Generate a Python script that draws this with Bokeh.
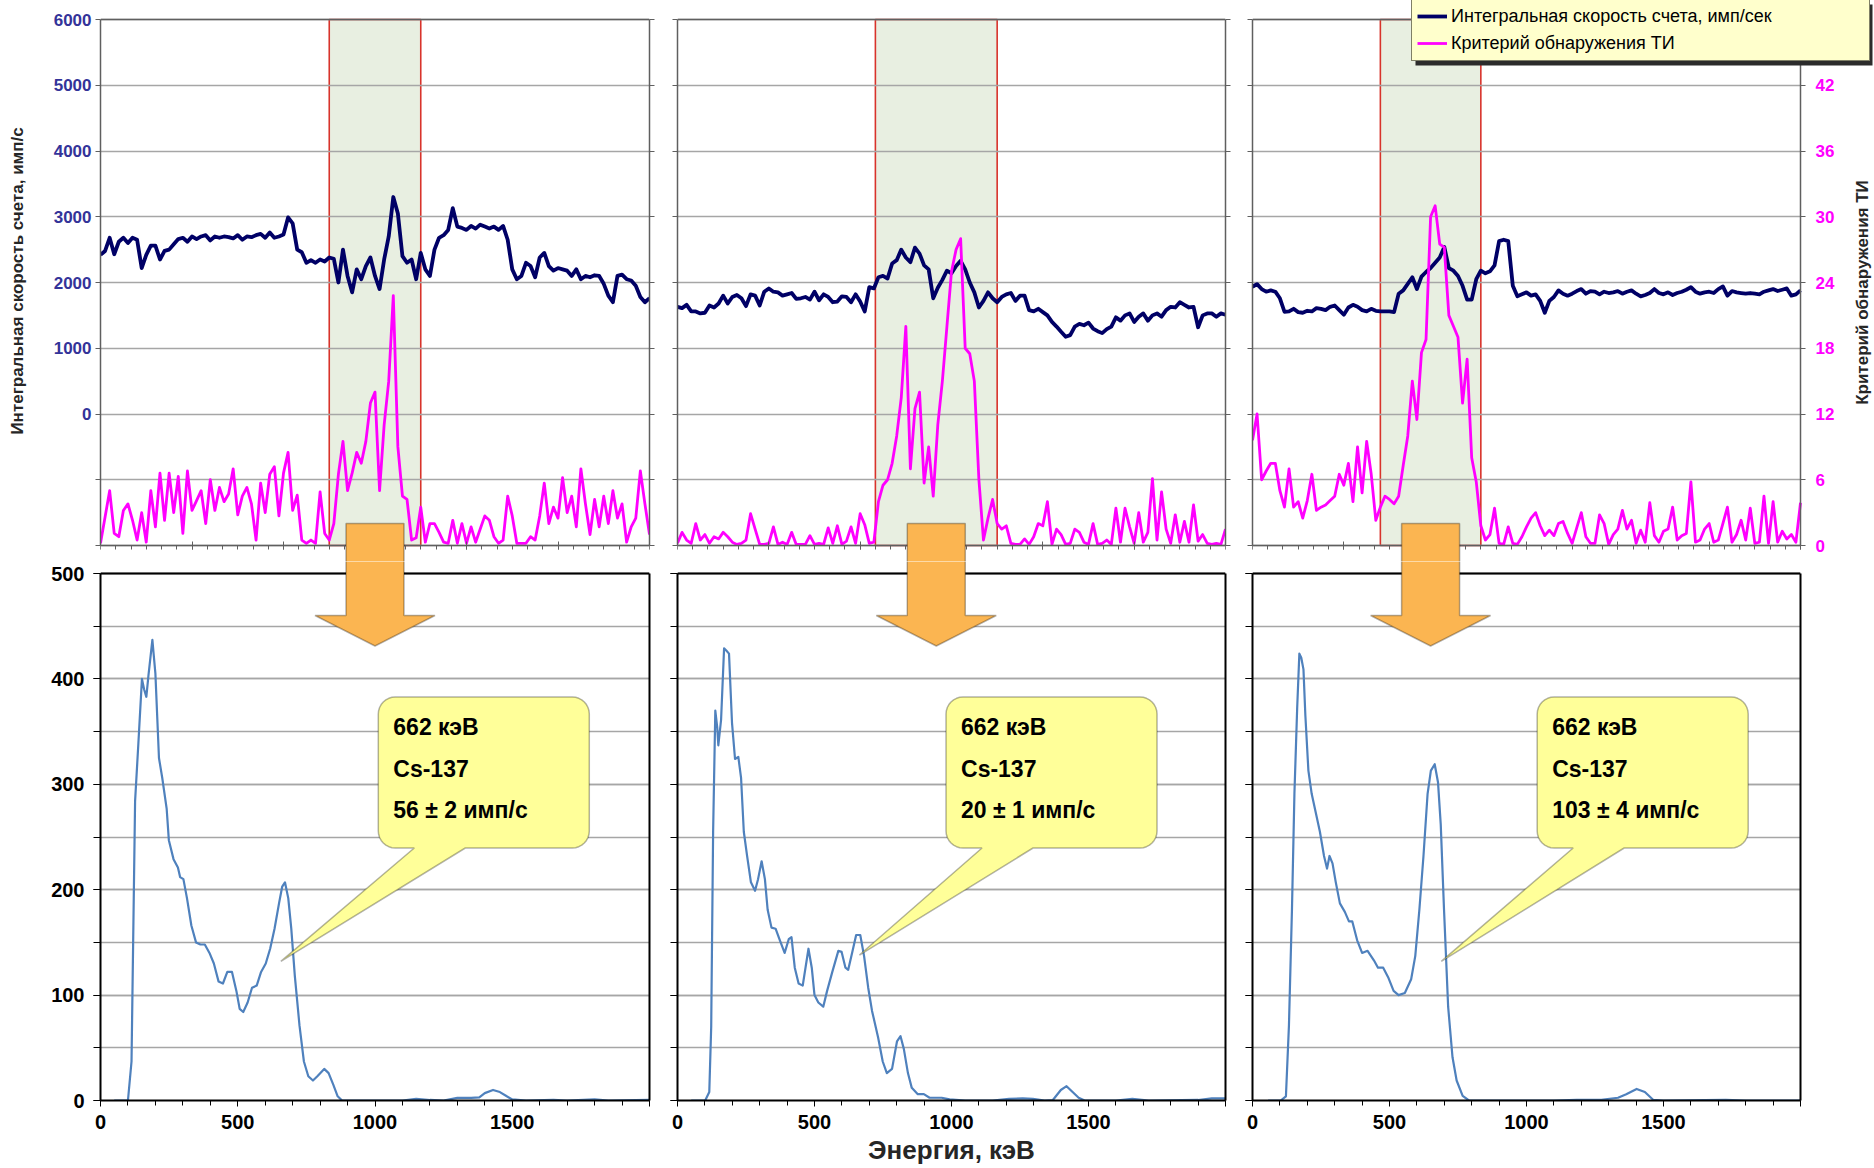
import math
import numpy as np
from bokeh.plotting import figure
from bokeh.layouts import row, column
from bokeh.models import (Range1d, LinearAxis, FixedTicker, BoxAnnotation,
                          PolyAnnotation, Label, Legend, LegendItem)
from bokeh.embed import file_html
from bokeh.resources import INLINE

FONT = "Liberation Sans"
NAVY = "#000066"
MAGENTA = "#FF00FF"
SPEC_BLUE = "#4F81BD"
GRID_GRAY = "#A6A6A6"
TOP_AXIS = "#5F5F5F"
SHADE = "#E8EFE1"
WIN_RED = "#D8332B"
ARROW_FILL = "#FBB551"
CALLOUT_FILL = "#FFFF99"
LEGEND_FILL = "#FFFFCC"

# ---------------------------------------------------------------- data
# monitoring records, one sample every 3 time units over 0..360
STEP = 3
T_MAX = 360

rate_1 = [2420, 2480, 2680, 2430, 2620, 2680, 2600, 2680, 2650, 2220, 2420, 2560, 2560, 2350, 2480, 2500, 2580, 2660, 2680, 2620,
          2700, 2660, 2700, 2720, 2640, 2700, 2680, 2700, 2690, 2670, 2720, 2650, 2700, 2690, 2720, 2740, 2680, 2760, 2680, 2700,
          2730, 2990, 2900, 2500, 2460, 2300, 2340, 2300, 2350, 2320, 2380, 2360, 2000, 2500, 2100, 1850, 2200, 2050, 2250, 2380,
          2100, 1900, 2350, 2700, 3300, 3050, 2400, 2300, 2350, 2050, 2450, 2200, 2100, 2500, 2680, 2720, 2800, 3130, 2850, 2830,
          2800, 2860, 2820, 2880, 2850, 2820, 2850, 2800, 2860, 2650, 2200, 2050, 2100, 2300, 2250, 2080, 2380, 2450, 2250, 2180,
          2220, 2200, 2180, 2100, 2200, 2050, 2100, 2080, 2110, 2100, 1980, 1800, 1700, 2100, 2120, 2050, 2030, 1950, 1780, 1700,
          1760]
crit_1 = [0.2, 2.6, 5.0, 1.1, 0.8, 3.2, 3.8, 2.3, 0.5, 3.0, 0.3, 5.0, 1.7, 6.6, 2.3, 6.6, 3.0, 6.3, 1.1, 6.8,
          3.2, 4.1, 5.0, 2.0, 6.0, 3.2, 5.3, 4.0, 4.7, 7.0, 2.8, 4.5, 5.3, 3.8, 0.5, 5.7, 3.0, 6.5, 7.2, 2.7,
          6.6, 8.5, 3.2, 4.6, 0.5, 0.2, 0.5, 0.2, 4.9, 1.1, 0.5, 2.0, 6.5, 9.5, 5.0, 6.6, 8.5, 7.5, 9.5, 13.0,
          14.0, 5.0, 11.0, 15.0, 22.8, 9.0, 4.5, 4.2, 0.5, 0.7, 3.5, 0.3, 2.0, 2.0, 1.2, 0.3, 0.2, 2.3, 0.2, 2.0,
          0.2, 1.7, 0.3, 1.5, 2.7, 2.3, 0.8, 0.2, 0.5, 4.5, 2.7, 0.2, 0.2, 0.2, 0.8, 0.5, 2.7, 5.7, 2.0, 3.5,
          2.5, 6.2, 3.0, 4.5, 1.7, 7.0, 3.8, 1.0, 4.2, 1.7, 4.5, 2.0, 5.0, 2.5, 3.8, 0.3, 1.7, 2.5, 6.8, 3.8,
          1.0]

rate_2 = [1630, 1610, 1660, 1560, 1560, 1530, 1540, 1650, 1620, 1680, 1800, 1680, 1780, 1810, 1760, 1640, 1820, 1800, 1650, 1860,
          1910, 1860, 1850, 1800, 1820, 1840, 1750, 1760, 1780, 1740, 1860, 1730, 1820, 1780, 1700, 1710, 1790, 1780, 1700, 1820,
          1710, 1560, 1930, 1910, 2080, 2100, 2060, 2290, 2340, 2500, 2380, 2310, 2530, 2440, 2260, 2200, 1760, 1920, 2040, 2180,
          2140, 2250, 2330, 2200, 2000, 1850, 1620, 1720, 1850, 1760, 1700, 1780, 1820, 1840, 1720, 1800, 1800, 1580, 1560, 1600,
          1550, 1500, 1400, 1330, 1250, 1175, 1200, 1330, 1370, 1350, 1390, 1300, 1260, 1230, 1290, 1330, 1470, 1420, 1500, 1530,
          1400, 1480, 1530, 1420, 1500, 1530, 1480, 1580, 1630, 1620, 1700, 1660, 1620, 1630, 1320, 1500, 1530, 1530, 1480, 1530,
          1510]
crit_2 = [0.2, 1.2, 0.5, 0.2, 2.0, 0.5, 1.0, 0.2, 0.8, 0.6, 1.2, 0.8, 0.3, 0.1, 0.2, 0.5, 2.9, 1.5, 0.1, 0.1,
          0.2, 1.7, 0.1, 0.3, 0.1, 1.2, 0.1, 0.1, 0.1, 0.9, 0.1, 0.2, 0.1, 1.6, 0.2, 1.8, 0.1, 0.4, 1.7, 0.2,
          2.9, 1.9, 0.2, 0.3, 4.0, 5.5, 6.0, 7.5, 10.0, 13.5, 20.0, 7.0, 12.5, 14.0, 5.7, 9.0, 4.5, 11.0, 15.0, 20.0,
          25.0, 27.0, 28.0, 18.0, 17.5, 15.0, 6.0, 0.5, 2.5, 4.2, 2.0, 1.5, 1.8, 0.2, 0.1, 0.1, 0.6, 0.1, 0.8, 2.0,
          1.8, 4.0, 0.1, 1.5, 1.0, 0.1, 0.2, 1.5, 1.2, 0.3, 0.1, 2.0, 0.1, 0.2, 0.5, 0.1, 3.4, 0.3, 3.4, 1.7,
          0.2, 3.0, 0.3, 1.2, 6.1, 0.5, 4.9, 1.5, 0.2, 2.8, 0.3, 2.2, 0.3, 3.7, 0.4, 1.0, 0.2, 0.1, 0.2, 0.1,
          1.5]

rate_3 = [1935, 1975, 1900, 1860, 1880, 1860, 1760, 1555, 1560, 1600, 1550, 1540, 1570, 1560, 1610, 1600, 1580, 1630, 1650, 1580,
          1510, 1620, 1660, 1630, 1580, 1560, 1600, 1570, 1560, 1560, 1560, 1550, 1830, 1880, 1980, 2080, 1900, 2090, 2160, 2220,
          2300, 2380, 2540, 2220, 2180, 2100, 1950, 1740, 1740, 2050, 2180, 2140, 2170, 2260, 2630, 2650, 2630, 1950, 1790, 1820,
          1850, 1800, 1820, 1720, 1540, 1720, 1780, 1880, 1830, 1800, 1830, 1870, 1900, 1830, 1870, 1860, 1820, 1860, 1840, 1850,
          1870, 1830, 1860, 1880, 1830, 1790, 1810, 1840, 1900, 1840, 1820, 1850, 1810, 1840, 1860, 1890, 1930, 1860, 1830, 1850,
          1860, 1840, 1900, 1940, 1800, 1870, 1850, 1840, 1830, 1840, 1830, 1820, 1860, 1880, 1900, 1870, 1890, 1910, 1800, 1820,
          1880]
crit_3 = [9.6, 12.0, 6.0, 6.8, 7.5, 7.5, 5.0, 3.5, 7.0, 3.5, 4.0, 2.5, 4.1, 6.5, 3.2, 3.5, 3.7, 4.1, 4.5, 6.5,
          5.5, 7.5, 4.0, 9.0, 4.8, 9.5, 6.5, 2.3, 3.5, 4.5, 4.2, 3.8, 4.5, 7.3, 10.0, 15.0, 11.5, 17.6, 18.8, 30.0,
          31.0, 27.5, 27.2, 21.0, 20.0, 19.0, 13.0, 17.0, 8.0, 5.8, 1.8, 0.5, 1.0, 3.4, 0.2, 0.1, 1.7, 0.2, 0.1, 0.8,
          1.7, 2.5, 3.0, 1.8, 0.9, 1.4, 0.9, 2.0, 2.2, 1.1, 0.2, 1.6, 3.0, 0.8, 0.2, 0.2, 2.8, 2.0, 0.1, 1.0,
          1.5, 3.2, 1.5, 2.3, 0.2, 1.4, 0.3, 3.9, 0.9, 0.3, 1.3, 1.5, 3.5, 0.5, 0.9, 1.1, 5.8, 0.3, 0.5, 1.5,
          2.0, 0.3, 0.5, 2.0, 3.5, 0.3, 1.0, 2.3, 0.5, 3.4, 0.2, 0.3, 4.5, 0.2, 4.0, 0.3, 1.3, 0.6, 1.0, 0.3,
          3.9]

# time windows used for spectrum accumulation
windows = [(150, 210), (130, 210), (84, 150)]

# gamma spectra accumulated in those windows
energy_1 = [50, 100, 113, 126, 138, 151, 159, 167, 175, 189, 200, 213, 225, 241, 249, 266, 282, 290, 302, 315,
            331, 348, 364, 380, 397, 413, 430, 446, 462, 479, 495, 507, 520, 536, 552, 569, 585, 602, 618, 634,
            651, 662, 672, 684, 695, 708, 725, 741, 757, 774, 790, 815, 831, 848, 864, 880, 1000, 1100, 1150, 1200,
            1250, 1300, 1350, 1380, 1400, 1430, 1455, 1480, 1500, 1550, 1650, 1700, 1800, 1850, 2000]
counts_1 = [0, 0, 37, 284, 339, 400, 390, 383, 404, 437, 405, 325, 306, 277, 247, 229, 221, 212, 210, 192,
            166, 150, 148, 148, 140, 130, 113, 111, 122, 122, 104, 87, 84, 93, 107, 109, 122, 130, 144, 163,
            188, 203, 207, 192, 163, 118, 71, 37, 23, 19, 23, 30, 26, 15, 4, 0, 0, 0, 1.5, 0.5,
            0, 2.5, 2.5, 3, 7, 10, 8, 4, 1, 0, 0.5, 0, 1, 0, 0.5]

energy_2 = [50, 101, 116, 123, 130, 138, 145, 149, 159, 170, 178, 188, 199, 210, 222, 232, 242, 254, 268, 283,
            294, 307, 319, 329, 343, 358, 372, 391, 406, 416, 428, 442, 457, 478, 490, 500, 514, 532, 546, 565,
            587, 599, 613, 623, 638, 652, 667, 681, 696, 710, 732, 749, 764, 783, 801, 814, 826, 841, 855, 877,
            899, 920, 964, 993, 1050, 1150, 1210, 1260, 1297, 1340, 1370, 1399, 1420, 1442, 1464, 1486, 1600, 1660,
            1720, 1900, 1950, 2000]
counts_2 = [0, 0, 8, 70, 255, 370, 354, 337, 361, 429, 427, 424, 358, 324, 326, 306, 255, 232, 207, 199,
            210, 227, 210, 181, 164, 163, 153, 140, 153, 155, 126, 111, 109, 144, 126, 100, 93, 89, 104, 122,
            142, 141, 126, 124, 141, 157, 157, 137, 107, 85, 60, 37, 26, 30, 56, 61, 49, 26, 12, 6,
            6, 2.6, 2.6, 1, 0, 0, 1.5, 2, 1.5, 0, 0.5, 10, 13.6, 8, 2.6, 0, 0, 1.5,
            0, 0.5, 2, 2]

energy_3 = [57, 103, 122, 133, 144, 153, 163, 171, 178, 186, 193, 204, 216, 231, 246, 261, 272, 281, 292, 304,
            319, 337, 352, 364, 382, 400, 420, 443, 458, 477, 495, 515, 533, 556, 579, 594, 609, 624, 639, 651,
            665, 677, 687, 699, 714, 730, 745, 767, 790, 1100, 1183, 1273, 1334, 1364, 1402, 1432, 1462, 1500, 1727,
            1800, 2000]
counts_3 = [0, 0, 4, 71, 181, 291, 372, 424, 420, 409, 365, 313, 291, 273, 255, 232, 220, 232, 225, 207,
            187, 179, 170, 170, 152, 140, 142, 133, 126, 126, 117, 104, 100, 102, 115, 137, 181, 232, 291, 313,
            319, 302, 262, 181, 89, 41, 19, 4.4, 0, 0, 0.7, 0.7, 2.6, 6, 11, 8, 0.7, 0, 0.7,
            0, 0]

peak_energy_text = "662 кэВ"
nuclide_text = "Cs-137"
activity_texts = ["56 ± 2 имп/с", "20 ± 1 имп/с", "103 ± 4 имп/с"]
callout_left_kev = [1012, 980, 1039]
callout_tips = [(657, 132), (664, 138), (689, 132)]

RATE_MIN, RATE_MAX = -2000, 6000
CRIT_MAX = 48
E_MAX, C_MAX = 2000, 500
rate_ticks = list(range(RATE_MIN, RATE_MAX + 1, 1000))
crit_ticks = list(range(0, CRIT_MAX + 1, 6))
time_major = list(range(0, T_MAX + 1, 60))
time_minor = list(range(0, T_MAX + 1, 10))
energy_ticks = [0, 500, 1000, 1500, 2000]
energy_minor = list(range(0, E_MAX + 1, 100))
count_ticks = [0, 100, 200, 300, 400, 500]
count_minor = list(range(0, C_MAX + 1, 50))

legend_labels = ["Интегральная скорость счета, имп/сек", "Критерий обнаружения ТИ"]
rate_title = "Интегральная скорость счета, имп/с"
crit_title = "Критерий обнаружения ТИ"
energy_title = "Энергия, кэВ"

# ---------------------------------------------------------------- geometry (px)
FRAME_W = [549, 548, 548]
BORDER_L = [100, 14, 14]
BORDER_R_TOP = [14, 13, 0]
BORDER_R_BOT = [14, 13, 74]
EXTRA_R = [0, 0, 74]        # the right-hand record keeps legend and axis title inside its drawing area
TOP_H = 526                 # height of the boxed record area
TOP_PAD = 19                # free strip above the record box
GAP_TOP = 16                # strip below the record box (belongs to the upper plots)
BOT_PAD = 12                # strip above the spectrum box (belongs to the lower plots)
BOT_H = 527
SHAFT_HALF = 29
HEAD_HALF = 60

K_RATE = TOP_H / (RATE_MAX - RATE_MIN)     # px per count-rate unit
K_CRIT = TOP_H / CRIT_MAX                  # px per criterion unit
K_COUNT = BOT_H / C_MAX                    # px per spectrum count unit


def hide_labels(ax):
    ax.major_label_text_font_size = "1px"
    ax.major_label_text_color = None
    ax.major_label_standoff = 0


def edge_axis(color, width, bounds, **kw):
    ax = LinearAxis(bounds=bounds, ticker=FixedTicker(ticks=[]), **kw)
    hide_labels(ax)
    ax.major_tick_line_color = None
    ax.minor_tick_line_color = None
    ax.axis_line_color = color
    ax.axis_line_width = width
    return ax


def top_panel(i, rate, crit, window):
    fw = FRAME_W[i]
    kx = fw / T_MAX
    x_hi = T_MAX + EXTRA_R[i] / kx
    p = figure(frame_width=fw + EXTRA_R[i], frame_height=TOP_PAD + TOP_H + GAP_TOP,
               x_range=Range1d(0, x_hi),
               y_range=Range1d(RATE_MIN - GAP_TOP / K_RATE, RATE_MAX + TOP_PAD / K_RATE),
               min_border_left=BORDER_L[i], min_border_right=BORDER_R_TOP[i],
               min_border_top=0, min_border_bottom=0,
               output_backend="svg", toolbar_location=None)
    p.extra_y_ranges = {"crit": Range1d(0 - GAP_TOP / K_CRIT, CRIT_MAX + TOP_PAD / K_CRIT)}
    p.outline_line_color = None

    p.xgrid.visible = False
    grid = p.ygrid[0]
    grid.ticker = FixedTicker(ticks=rate_ticks)
    grid.grid_line_color = GRID_GRAY
    grid.grid_line_width = 1.5
    use_grid = True
    if EXTRA_R[i] > 0:
        if "cross_bounds" in grid.properties():
            grid.cross_bounds = (0, T_MAX)
        else:
            use_grid = False
            grid.visible = False

    # accumulation window: shaded band with red edges, under the grid
    band = BoxAnnotation(left=window[0], right=window[1], top=RATE_MAX, bottom=RATE_MIN,
                         fill_color=SHADE, fill_alpha=1.0, line_color=WIN_RED, line_alpha=1.0,
                         line_width=1.6, level="underlay")
    p.center = [band] + list(p.center)
    if not use_grid:
        p.segment(x0=[0] * len(rate_ticks), x1=[T_MAX] * len(rate_ticks), y0=rate_ticks, y1=rate_ticks,
                  line_color=GRID_GRAY, line_width=1.5, level="underlay")

    t = [STEP * k for k in range(len(rate))]
    tc = [STEP * k for k in range(len(crit))]
    r_rate = p.line(t, rate, line_color=NAVY, line_width=3.8, line_join="round")
    r_crit = p.line(tc, crit, line_color=MAGENTA, line_width=2.8, line_join="round",
                    y_range_name="crit")

    # left axis
    yl = p.yaxis[0]
    yl.ticker = FixedTicker(ticks=rate_ticks)
    yl.bounds = (RATE_MIN, RATE_MAX)
    yl.major_tick_in = 0
    yl.major_tick_out = 5
    yl.minor_tick_line_color = None
    yl.axis_line_color = TOP_AXIS
    yl.axis_line_width = 1.5
    yl.major_tick_line_color = TOP_AXIS
    if i == 0:
        yl.major_label_overrides = {-2000: "", -1000: ""}
        yl.major_label_text_font = FONT
        yl.major_label_text_font_size = "17px"
        yl.major_label_text_font_style = "bold"
        yl.major_label_text_color = "#333399"
        yl.major_label_standoff = 4
        yl.axis_label = rate_title
        yl.axis_label_text_font = FONT
        yl.axis_label_text_font_size = "17px"
        yl.axis_label_text_font_style = "bold"
        yl.axis_label_text_color = "#262626"
        yl.axis_label_standoff = 24
    else:
        hide_labels(yl)

    # right axis
    if i == 2:
        yr = LinearAxis(y_range_name="crit", ticker=FixedTicker(ticks=crit_ticks),
                        fixed_location=T_MAX, bounds=(0, CRIT_MAX))
        yr.major_label_overrides = {CRIT_MAX: ""}
        yr.major_label_text_font = FONT
        yr.major_label_text_font_size = "17px"
        yr.major_label_text_font_style = "bold"
        yr.major_label_text_color = MAGENTA
        yr.major_label_standoff = 10
        # title of the criterion scale, reading upwards, centred on the box
        p.add_layout(Label(x=T_MAX + 61.5 / kx, y=RATE_MAX - 273 / K_RATE, text=crit_title,
                           angle=math.pi / 2, text_align="center", text_baseline="middle",
                           text_font=FONT, text_font_size="17px", text_font_style="bold",
                           text_color="#262626"))
    else:
        yr = LinearAxis(ticker=FixedTicker(ticks=rate_ticks), bounds=(RATE_MIN, RATE_MAX))
        hide_labels(yr)
    yr.major_tick_in = 0
    yr.major_tick_out = 5
    yr.minor_tick_line_color = None
    yr.axis_line_color = TOP_AXIS
    yr.axis_line_width = 1.5
    yr.major_tick_line_color = TOP_AXIS
    p.add_layout(yr, "right")

    # time axis along the bottom edge of the box: tick marks only
    xa = p.xaxis[0]
    xa.ticker = FixedTicker(ticks=time_major, minor_ticks=time_minor)
    xa.fixed_location = RATE_MIN
    xa.bounds = (0, T_MAX)
    hide_labels(xa)
    xa.axis_line_color = TOP_AXIS
    xa.axis_line_width = 1.5
    xa.major_tick_line_color = TOP_AXIS
    xa.minor_tick_line_color = TOP_AXIS
    xa.major_tick_in = 4
    xa.major_tick_out = 4
    xa.minor_tick_in = 0
    xa.minor_tick_out = 4

    # top edge of the box
    p.add_layout(edge_axis(TOP_AXIS, 1.5, (0, T_MAX), fixed_location=RATE_MAX), "above")

    # upper part of the block arrow that leads to the spectrum below
    c = (window[0] + window[1]) / 2
    hw = SHAFT_HALF / kx
    y_top = RATE_MIN + 22 / K_RATE
    y_bot = RATE_MIN - 60 / K_RATE
    p.add_layout(PolyAnnotation(xs=[c - hw, c + hw, c + hw, c - hw], ys=[y_top, y_top, y_bot, y_bot],
                                fill_color=ARROW_FILL, fill_alpha=1.0, line_color="black", line_width=1.5))
    return p, r_rate, r_crit


def callout_shape(left, top, kx, ky, tip, w=211, h=151, r=17, b0=36, b1=87):
    pts = []

    def arc(cx, cy, a0, a1):
        for a in np.linspace(a0, a1, 9):
            pts.append((cx + r * math.cos(a), cy - r * math.sin(a)))

    tdx = (tip[0] - left) * kx
    tdy = (top - tip[1]) * ky
    pts.append((r, 0))
    pts.append((w - r, 0))
    arc(w - r, r, math.pi / 2, 0)
    pts.append((w, h - r))
    arc(w - r, h - r, 0, -math.pi / 2)
    pts.append((b1, h))
    pts.append((tdx, tdy))
    pts.append((b0, h))
    pts.append((r, h))
    arc(r, h - r, -math.pi / 2, -math.pi)
    pts.append((0, r))
    arc(r, r, math.pi, math.pi / 2)
    xs = [left + px / kx for px, _ in pts]
    ys = [top - py / ky for _, py in pts]
    return xs, ys


def bottom_panel(i, energy, counts, window):
    fw = FRAME_W[i]
    kx = fw / E_MAX
    p = figure(frame_width=fw, frame_height=BOT_PAD + BOT_H,
               x_range=Range1d(0, E_MAX), y_range=Range1d(0, C_MAX + BOT_PAD / K_COUNT),
               min_border_left=BORDER_L[i], min_border_right=BORDER_R_BOT[i],
               min_border_top=0, min_border_bottom=68,
               output_backend="svg", toolbar_location=None)
    p.outline_line_color = None

    p.xgrid.visible = False
    yt = FixedTicker(ticks=count_ticks, minor_ticks=count_minor)
    p.ygrid.ticker = yt
    p.ygrid.grid_line_color = GRID_GRAY
    p.ygrid.grid_line_width = 1.5
    p.ygrid.minor_grid_line_color = GRID_GRAY
    p.ygrid.minor_grid_line_width = 1.5

    p.line(energy, counts, line_color=SPEC_BLUE, line_width=2.2, line_join="round")

    ya = p.yaxis[0]
    ya.ticker = yt
    ya.bounds = (0, C_MAX)
    ya.axis_line_color = "black"
    ya.axis_line_width = 2
    ya.major_tick_line_color = "black"
    ya.minor_tick_line_color = "black"
    ya.major_tick_in = 0
    ya.major_tick_out = 7
    ya.minor_tick_in = 0
    ya.minor_tick_out = 7
    if i == 0:
        ya.major_label_text_font = FONT
        ya.major_label_text_font_size = "20px"
        ya.major_label_text_font_style = "bold"
        ya.major_label_text_color = "black"
        ya.major_label_standoff = 9
    else:
        hide_labels(ya)

    xa = p.xaxis[0]
    xa.ticker = FixedTicker(ticks=energy_ticks, minor_ticks=energy_minor)
    xa.major_label_overrides = {2000: ""}
    xa.axis_line_color = "black"
    xa.axis_line_width = 2
    xa.major_tick_line_color = "black"
    xa.minor_tick_line_color = "black"
    xa.major_tick_in = 0
    xa.major_tick_out = 6
    xa.minor_tick_in = 0
    xa.minor_tick_out = 5
    xa.major_label_text_font = FONT
    xa.major_label_text_font_size = "20px"
    xa.major_label_text_font_style = "bold"
    xa.major_label_text_color = "black"
    xa.major_label_standoff = 8
    if i == 1:
        xa.axis_label = energy_title
        xa.axis_label_text_font = FONT
        xa.axis_label_text_font_size = "26px"
        xa.axis_label_text_font_style = "bold"
        xa.axis_label_text_color = "#262626"
        xa.axis_label_standoff = 3

    # top and right edges of the spectrum box
    p.add_layout(edge_axis("black", 2, (0, E_MAX), fixed_location=C_MAX), "above")
    p.add_layout(edge_axis("black", 2, (0, C_MAX)), "right")

    # lower part of the block arrow, centred under the accumulation window
    c = (window[0] + window[1]) / 2 / T_MAX * E_MAX
    sh = SHAFT_HALF / kx
    hh = HEAD_HALF / kx
    y_top = C_MAX + 40 / K_COUNT
    y_base = C_MAX - 42 / K_COUNT
    y_tip = C_MAX - 72.5 / K_COUNT
    p.add_layout(PolyAnnotation(xs=[c - sh, c + sh, c + sh, c + hh, c, c - hh, c - sh],
                                ys=[y_top, y_top, y_base, y_base, y_tip, y_base, y_base],
                                fill_color=ARROW_FILL, fill_alpha=1.0, line_color="black", line_width=1.5))

    # callout naming the 662 keV line
    left = callout_left_kev[i]
    top = C_MAX - 123.5 / K_COUNT
    xs, ys = callout_shape(left, top, kx, K_COUNT, callout_tips[i])
    p.add_layout(PolyAnnotation(xs=xs, ys=ys, fill_color=CALLOUT_FILL, fill_alpha=1.0,
                                line_color="black", line_width=1.5))
    for text, dy in zip([peak_energy_text, nuclide_text, activity_texts[i]], [30, 72, 113]):
        p.add_layout(Label(x=left, y=top, x_offset=15, y_offset=-dy, text=text,
                           text_font=FONT, text_font_size="23px", text_font_style="bold",
                           text_color="black", text_baseline="alphabetic", text_align="left"))
    return p


rates = [rate_1, rate_2, rate_3]
crits = [crit_1, crit_2, crit_3]
spectra = [(energy_1, counts_1), (energy_2, counts_2), (energy_3, counts_3)]

tops = [top_panel(i, rates[i], crits[i], windows[i]) for i in range(3)]

# legend with a drop shadow on the right-hand record
p3, r_rate3, r_crit3 = tops[2]
LEG_X, LEG_W, LEG_H = 159, 457, 61
kx3 = FRAME_W[2] / T_MAX
frame_h3 = TOP_PAD + TOP_H + GAP_TOP
shadow = BoxAnnotation(left=(LEG_X + 4) / kx3, right=(LEG_X + LEG_W + 4) / kx3,
                       top=RATE_MAX + (TOP_PAD - 4) / K_RATE,
                       bottom=RATE_MAX - (LEG_H + 4 - TOP_PAD) / K_RATE,
                       fill_color="#2b2b2b", fill_alpha=1.0, line_alpha=0)
p3.add_layout(shadow)
legend = Legend(items=[LegendItem(label=legend_labels[0], renderers=[r_rate3]),
                       LegendItem(label=legend_labels[1], renderers=[r_crit3])],
                location=(LEG_X, frame_h3 - LEG_H), orientation="vertical",
                padding=5, spacing=3, margin=0,
                glyph_width=30, glyph_height=24, label_height=24, label_width=LEG_W - 10 - 30 - 4,
                label_standoff=4, label_text_font=FONT, label_text_font_size="18px",
                label_text_color="black", background_fill_color=LEGEND_FILL, background_fill_alpha=1.0,
                border_line_color="black", border_line_width=1)
p3.add_layout(legend)

bottoms = [bottom_panel(i, spectra[i][0], spectra[i][1], windows[i]) for i in range(3)]

layout = column(row(*[t[0] for t in tops], spacing=0), row(*bottoms, spacing=0), spacing=0)

with open("out.html", "w") as f:
    f.write(file_html(layout, INLINE))
